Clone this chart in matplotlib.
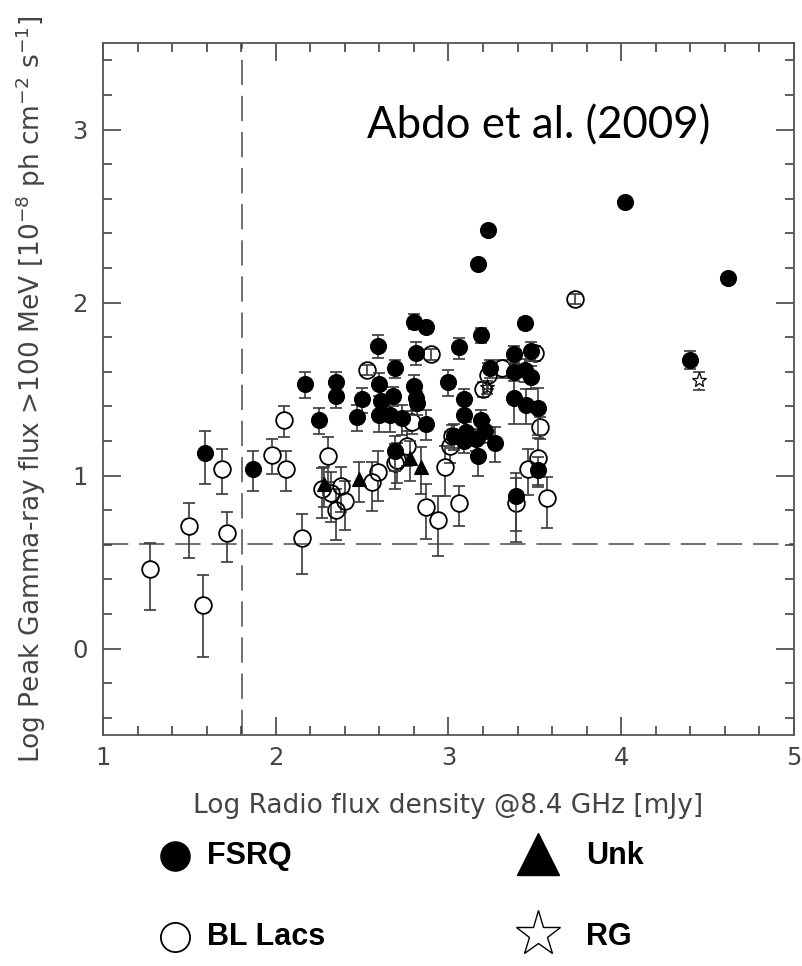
import numpy as np
import matplotlib
matplotlib.use("Agg")
import matplotlib.pyplot as plt
from matplotlib.ticker import MultipleLocator
from matplotlib.collections import LineCollection

# ---- data: log radio flux density (x), log peak gamma-ray flux (y),
#      relative (linear) flux uncertainty used for the vertical error bars
fsrq_x = [1.59, 1.87, 2.17, 2.25, 2.35, 2.35, 2.47, 2.50, 2.59, 2.60, 2.61, 2.60,
          2.66, 2.68, 2.69, 2.69, 2.73, 2.80, 2.81, 2.80, 2.81, 2.82, 2.87, 2.87,
          3.00, 3.06, 3.03, 3.09, 3.09, 3.10, 3.09, 3.16, 3.17, 3.19, 3.19, 3.21,
          3.24, 3.27, 3.17, 3.23, 3.44, 3.38, 3.48, 3.38, 3.44, 3.48, 3.38, 3.45,
          3.52, 3.52, 3.39, 4.02, 4.40, 4.62]
fsrq_y = [1.13, 1.04, 1.53, 1.32, 1.54, 1.46, 1.34, 1.44, 1.75, 1.53, 1.43, 1.35,
          1.35, 1.46, 1.62, 1.14, 1.33, 1.89, 1.71, 1.52, 1.45, 1.42, 1.86, 1.30,
          1.54, 1.74, 1.23, 1.44, 1.35, 1.25, 1.20, 1.21, 1.11, 1.81, 1.32, 1.26,
          1.62, 1.19, 2.22, 2.42, 1.88, 1.70, 1.72, 1.60, 1.61, 1.57, 1.45, 1.41,
          1.39, 1.03, 0.88, 2.58, 1.67, 2.14]
fsrq_rel = [0.34, 0.26, 0.17, 0.17, 0.15, 0.15, 0.17, 0.17, 0.15, 0.15, 0.17, 0.20,
            0.20, 0.12, 0.12, 0.23, 0.20, 0.10, 0.15, 0.15, 0.15, 0.15, 0.07, 0.20,
            0.17, 0.14, 0.17, 0.15, 0.20, 0.15, 0.15, 0.15, 0.23, 0.10, 0.15, 0.15,
            0.12, 0.23, 0.00, 0.00, 0.07, 0.12, 0.12, 0.12, 0.15, 0.15, 0.30, 0.23,
            0.30, 0.20, 0.37, 0.00, 0.12, 0.05]

bll_x = [1.27, 1.50, 1.58, 1.69, 1.72, 1.98, 2.06, 2.05, 2.15, 2.30, 2.27, 2.32,
         2.38, 2.40, 2.35, 2.53, 2.56, 2.59, 2.69, 2.70, 2.76, 2.79, 2.87, 2.90,
         2.94, 2.98, 3.01, 3.02, 3.06, 3.20, 3.23, 3.31, 3.39, 3.46, 3.50, 3.52,
         3.53, 3.57, 3.73]
bll_y = [0.46, 0.71, 0.25, 1.04, 0.67, 1.12, 1.04, 1.32, 0.64, 1.11, 0.92, 0.90,
         0.94, 0.85, 0.80, 1.61, 0.96, 1.02, 1.07, 1.09, 1.17, 1.31, 0.82, 1.70,
         0.74, 1.05, 1.17, 1.23, 0.84, 1.50, 1.58, 1.62, 0.84, 1.04, 1.71, 1.10,
         1.28, 0.87, 2.02]
bll_rel = [0.42, 0.35, 0.50, 0.29, 0.32, 0.23, 0.26, 0.20, 0.38, 0.29, 0.32, 0.32,
           0.29, 0.32, 0.33, 0.07, 0.32, 0.32, 0.29, 0.26, 0.23, 0.15, 0.35, 0.07,
           0.38, 0.32, 0.20, 0.15, 0.26, 0.10, 0.17, 0.12, 0.40, 0.30, 0.10, 0.30,
           0.15, 0.33, 0.07]

unk_x = [2.28, 2.48, 2.78, 2.84]
unk_y = [0.95, 0.98, 1.10, 1.05]
unk_rel = [0.26, 0.26, 0.26, 0.30]

rg_x = [3.22, 4.45]
rg_y = [1.51, 1.55]
rg_rel = [0.08, 0.12]

x_limit = 1.806   # radio flux limit (log mJy)
y_limit = 0.602   # gamma-ray flux limit (log 1e-8 ph cm-2 s-1)

# ---- figure geometry (pixels)
W, H, DPI = 803, 966, 100
AX_L, AX_R, AX_T, AX_B = 103, 794, 43, 735
XMIN, XMAX, YMIN, YMAX = 1.0, 5.0, -0.5, 3.5

GREY = "#444444"
ERR = "#3a3a3a"

fig = plt.figure(figsize=(W / DPI, H / DPI), dpi=DPI)
ax = fig.add_axes([AX_L / W, 1 - AX_B / H, (AX_R - AX_L) / W, (AX_B - AX_T) / H])
ax.set_xlim(XMIN, XMAX)
ax.set_ylim(YMIN, YMAX)

px_per_y = (AX_B - AX_T) / (YMAX - YMIN)


def draw_sample(x, y, rel, marker, ms, face, mew, z, hollow):
    x = np.asarray(x, float)
    y = np.asarray(y, float)
    rel = np.asarray(rel, float)
    up = np.log10(1 + rel)
    lo = -np.log10(1 - rel)
    hole = (ms / 2 * DPI / 72) / px_per_y if hollow else 0.0
    segs, cx, cy = [], [], []
    for xi, yi, u, l in zip(x, y, up, lo):
        if u <= 0:
            continue
        start_u = yi + hole if (hollow and u > hole) else yi
        start_l = yi - hole if (hollow and l > hole) else yi
        segs.append([(xi, start_u), (xi, yi + u)])
        segs.append([(xi, yi - l), (xi, start_l)])
        cx += [xi, xi]
        cy += [yi + u, yi - l]
    ax.add_collection(LineCollection(segs, colors=ERR, linewidths=1.2, zorder=z))
    ax.plot(cx, cy, ls="none", marker="_", ms=8, mew=1.2, color=ERR, zorder=z)
    ax.plot(x, y, ls="none", marker=marker, ms=ms, mfc=face, mec="black",
            mew=mew, zorder=z + 0.5)


# limit lines
ax.axvline(x_limit, color="#666666", lw=1.3, dashes=(14, 6), zorder=1)
ax.axhline(y_limit, color="#666666", lw=1.3, dashes=(14, 6), zorder=1)

draw_sample(bll_x, bll_y, bll_rel, "o", 12, "none", 1.3, 3, True)
draw_sample(fsrq_x, fsrq_y, fsrq_rel, "o", 11.5, "black", 0.8, 4, False)
draw_sample(unk_x, unk_y, unk_rel, "^", 9.5, "black", 0.8, 5, False)
draw_sample(rg_x, rg_y, rg_rel, "*", 11, "none", 0.9, 5, True)

# axes frame and ticks
for s in ax.spines.values():
    s.set_color("#555555")
    s.set_linewidth(1.3)
ax.xaxis.set_major_locator(MultipleLocator(1))
ax.xaxis.set_minor_locator(MultipleLocator(0.2))
ax.yaxis.set_major_locator(MultipleLocator(1))
ax.yaxis.set_minor_locator(MultipleLocator(0.2))
ax.tick_params(which="both", direction="in", top=True, right=True,
               color="#333333", width=1.1, labelcolor=GREY, labelsize=17.5)
ax.tick_params(which="major", length=13)
ax.tick_params(which="minor", length=6.5)
ax.tick_params(axis="x", pad=8)
ax.tick_params(axis="y", pad=11)

fig.text((AX_L + AX_R) / 2 / W, 1 - 806 / H,
         "Log Radio flux density @8.4 GHz [mJy]",
         ha="center", va="center", fontsize=19, color=GREY)
fig.text(31 / W, 1 - 389 / H,
         "Log Peak Gamma-ray flux >100 MeV [10$^{-8}$ ph cm$^{-2}$ s$^{-1}$]",
         ha="center", va="center", rotation=90, fontsize=19, color=GREY)

# overlay in pixel coordinates for annotation and key
ov = fig.add_axes([0, 0, 1, 1], zorder=10)
ov.set_xlim(0, W)
ov.set_ylim(H, 0)
ov.axis("off")
ov.patch.set_alpha(0)

ov.text(367, 138, "Abdo et al. (2009)", fontsize=31.5, family="Lato",
        ha="left", va="baseline", color="black")

key_rows = [856, 937]
ov.plot(175, key_rows[0], marker="o", ms=21, mfc="black", mec="black", ls="none")
ov.plot(175, key_rows[1], marker="o", ms=21, mfc="white", mec="black", mew=1.3, ls="none")
ov.plot(538, key_rows[0] - 2, marker="^", ms=30, mfc="black", mec="black", ls="none")
ov.plot(538, key_rows[1] - 3, marker="*", ms=34, mfc="white", mec="black", mew=1.0, ls="none")
kw = dict(fontsize=22, fontweight="bold", family="Liberation Sans", va="center",
          ha="left", color="black")
ov.text(207, key_rows[0], "FSRQ", **kw)
ov.text(207, key_rows[1], "BL Lacs", **kw)
ov.text(586, key_rows[0], "Unk", **kw)
ov.text(586, key_rows[1], "RG", **kw)

fig.savefig("out.png", dpi=DPI)
